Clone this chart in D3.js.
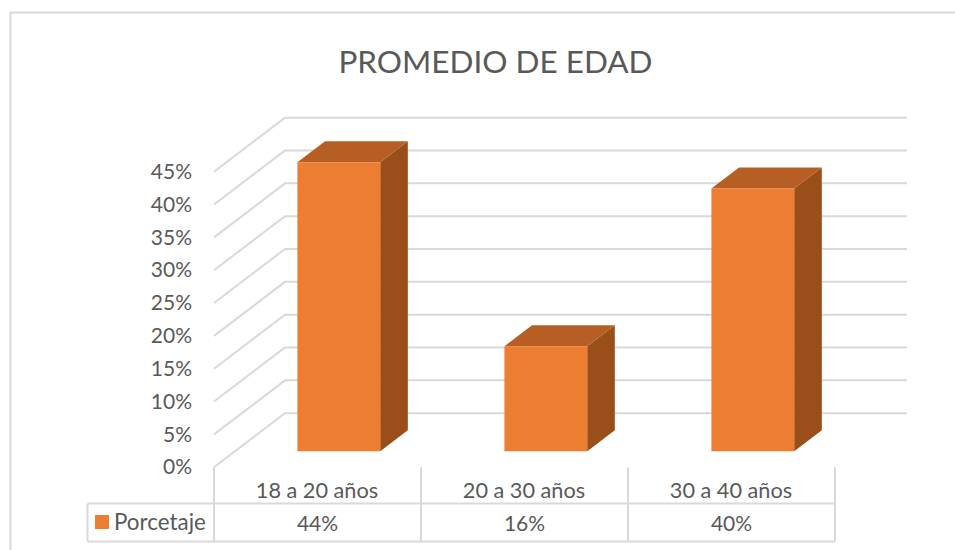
<!DOCTYPE html>
<html>
<head>
<meta charset="utf-8">
<script src="https://cdn.jsdelivr.net/npm/d3@7"></script>
<style>
  html, body { margin: 0; padding: 0; background: #fff; }
  svg { display: block; }
  text { font-family: Lato, "Open Sans", sans-serif; fill: #595959; }
</style>
</head>
<body>
<svg></svg>
<script>
const categories = ['18 a 20 años', '20 a 30 años', '30 a 40 años'];
const values = [44, 16, 40];
const valueLabels = ['44%', '16%', '40%'];
const tickValues = [0, 5, 10, 15, 20, 25, 30, 35, 40, 45];
const seriesName = 'Porcetaje';
const title = 'PROMEDIO DE EDAD';

const width = 955;
const height = 550;

// front floor corner and the shift to the back wall
const floorX = 214;
const floorY = 467.2;
const depthX = 71;
const depthY = -54;
const barDepthStart = 0.296;
const barDepthEnd = 0.685;

const gridColor = '#d9d9d9';
const faceColor = '#ed7d31';
const topColor = '#b65e23';
const sideColor = '#9a4f1b';

const svg = d3.select('svg')
    .attr('width', width)
    .attr('height', height);

const xScale = d3.scaleBand()
    .domain(categories)
    .range([floorX + 0.3, floorX + 621.3])
    .paddingInner(0.6)
    .paddingOuter(0.3);

const yScale = d3.scaleLinear()
    .domain([0, 45])
    .range([floorY, floorY - 295.5]);

// chart frame, only top and left are in view
svg.append('path')
    .attr('d', d3.line()([[955, 12.5], [10.5, 12.5], [10.5, 550]]))
    .attr('fill', 'none')
    .attr('stroke', gridColor)
    .attr('stroke-width', 2);

svg.append('text')
    .attr('x', 495.5)
    .attr('y', 73)
    .attr('text-anchor', 'middle')
    .style('font-size', '31.5px')
    .text(title);

// gridlines run along the side wall then the back wall
const gridLine = d3.line();
svg.append('g')
    .selectAll('path')
    .data(tickValues)
    .enter()
    .append('path')
    .attr('d', d => gridLine([
        [floorX, yScale(d)],
        [floorX + depthX, yScale(d) + depthY],
        [907, yScale(d) + depthY]
    ]))
    .attr('fill', 'none')
    .attr('stroke', gridColor)
    .attr('stroke-width', 2);

const yAxis = d3.axisLeft(yScale)
    .tickValues(tickValues)
    .tickFormat(d => d + '%')
    .tickSize(0)
    .tickPadding(22);

const yAxisGroup = svg.append('g')
    .attr('transform', 'translate(' + floorX + ',0)')
    .call(yAxis);
yAxisGroup.select('.domain').remove();
yAxisGroup.selectAll('text').style('font-size', '21px');

// one box per category
const project = (x, v, z) => [x + depthX * z, yScale(v) + depthY * z];
const polygon = pts => pts.map(p => p.join(',')).join(' ');

const bars = svg.append('g')
    .selectAll('g')
    .data(categories.map((c, i) => ({ c, v: values[i] })))
    .enter()
    .append('g');

bars.append('polygon')
    .attr('fill', sideColor)
    .attr('points', d => {
        const x = xScale(d.c) + xScale.bandwidth();
        return polygon([
            project(x, 0, barDepthStart),
            project(x, 0, barDepthEnd),
            project(x, d.v, barDepthEnd),
            project(x, d.v, barDepthStart)
        ]);
    });

bars.append('polygon')
    .attr('fill', topColor)
    .attr('points', d => {
        const x = xScale(d.c);
        const x2 = x + xScale.bandwidth();
        return polygon([
            project(x, d.v, barDepthStart),
            project(x, d.v, barDepthEnd),
            project(x2, d.v, barDepthEnd),
            project(x2, d.v, barDepthStart)
        ]);
    });

bars.append('polygon')
    .attr('fill', faceColor)
    .attr('points', d => {
        const x = xScale(d.c);
        const x2 = x + xScale.bandwidth();
        return polygon([
            project(x, 0, barDepthStart),
            project(x2, 0, barDepthStart),
            project(x2, d.v, barDepthStart),
            project(x, d.v, barDepthStart)
        ]);
    });

// data table under the plot
const rowTop = 503.5;
const rowBottom = 541.5;
const tableLeft = 87.5;
const tableRight = floorX + 621;
const colEdges = categories.map(c => xScale.step() * categories.indexOf(c) + floorX).concat([tableRight]);

const table = svg.append('g')
    .attr('stroke', gridColor)
    .attr('stroke-width', 2);

table.selectAll('.col')
    .data(colEdges)
    .enter()
    .append('line')
    .attr('class', 'col')
    .attr('x1', d => d)
    .attr('x2', d => d)
    .attr('y1', floorY)
    .attr('y2', rowBottom);

table.selectAll('.row')
    .data([rowTop, rowBottom])
    .enter()
    .append('line')
    .attr('class', 'row')
    .attr('x1', tableLeft)
    .attr('x2', tableRight)
    .attr('y1', d => d)
    .attr('y2', d => d);

table.append('line')
    .attr('x1', tableLeft)
    .attr('x2', tableLeft)
    .attr('y1', rowTop)
    .attr('y2', rowBottom);

const cellCenter = i => colEdges[i] + xScale.step() / 2;

svg.append('g')
    .selectAll('text')
    .data(categories)
    .enter()
    .append('text')
    .attr('x', (d, i) => cellCenter(i) - 0.5)
    .attr('y', 498)
    .attr('text-anchor', 'middle')
    .style('font-size', '21.7px')
    .text(d => d);

svg.append('g')
    .selectAll('text')
    .data(valueLabels)
    .enter()
    .append('text')
    .attr('x', (d, i) => cellCenter(i))
    .attr('y', 531)
    .attr('text-anchor', 'middle')
    .style('font-size', '21px')
    .text(d => d);

svg.append('rect')
    .attr('x', 95)
    .attr('y', 515)
    .attr('width', 14)
    .attr('height', 14)
    .attr('fill', faceColor);

svg.append('text')
    .attr('x', 114)
    .attr('y', 530)
    .style('font-size', '22.4px')
    .text(seriesName);
</script>
</body>
</html>
